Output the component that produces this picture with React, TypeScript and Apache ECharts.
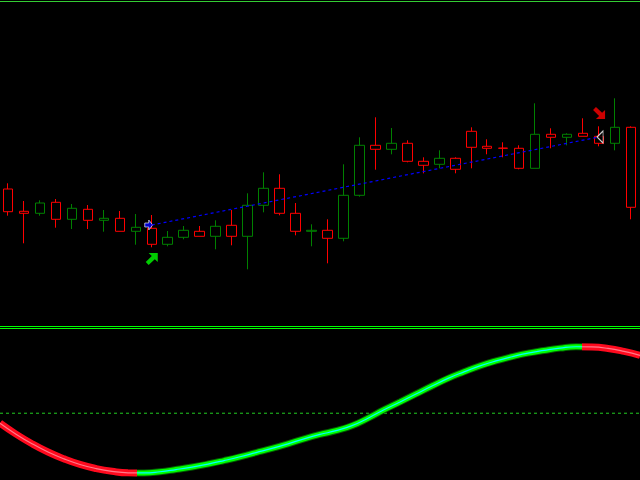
import React, { useEffect, useRef } from "react";
import * as echarts from "echarts";

// Candles: [open, close, low, high]
const candles: number[][] = [
  [137, 114.3, 110.3, 142.7],
  [114.7, 112.7, 82.7, 125],
  [112.7, 123, 110.3, 125.7],
  [123.7, 106.7, 98.3, 127],
  [106.7, 117.7, 97, 122],
  [116.7, 105.7, 97, 121],
  [105.7, 107.7, 94.3, 116],
  [107.7, 94.7, 94.7, 115],
  [94.7, 98.7, 81.3, 112],
  [97.7, 81.7, 78.7, 111],
  [81.7, 88.7, 79.7, 95],
  [88.7, 95.7, 86.7, 100],
  [94.7, 89.7, 89.7, 100],
  [89.7, 99.7, 76.7, 105.7],
  [100.7, 89.7, 80.7, 116],
  [89.7, 120.7, 56.7, 132.7],
  [120.7, 137.7, 113.7, 153.7],
  [137.7, 112.7, 110.7, 151.7],
  [112.7, 94.7, 90.7, 123],
  [94.7, 95.7, 79.7, 101.7],
  [95.7, 87.7, 62.7, 106.7],
  [87.7, 130.7, 84.7, 161.7],
  [130.7, 180.7, 129.3, 188.7],
  [180.7, 176.7, 156.3, 208.7],
  [176.7, 182.7, 171.7, 198],
  [182.7, 164.7, 163.7, 185.7],
  [164.7, 160.7, 152.7, 168.7],
  [161.7, 167.7, 157.7, 175.7],
  [167.7, 156.7, 152.7, 168.7],
  [194.7, 178.7, 157.7, 198.7],
  [179.7, 177.7, 171.7, 186.7],
  [177.9, 177.7, 168.7, 183.7],
  [177.7, 157.7, 156.7, 180.7],
  [157.7, 191.7, 157.7, 222.7],
  [191.7, 188.7, 177.7, 197.7],
  [188.7, 191.7, 180.7, 192.7],
  [192.7, 189.7, 189.7, 207.7],
  [189.7, 182.7, 179.7, 199.7],
  [182.7, 198.7, 175.7, 227.7],
  [198.7, 118.7, 106.7, 199.7],
];
const barLabels: string[] = candles.map((_, i) => `Bar ${i + 1}`);

// Oscillator (bottom panel), one value per half-bar step 0..40
const oscillator: number[] = [
  -0.1, -0.21, -0.306, -0.389, -0.458, -0.514, -0.555, -0.583, -0.598, -0.599,
  -0.587, -0.565, -0.54, -0.51, -0.475, -0.437, -0.395, -0.353, -0.307, -0.257,
  -0.213, -0.175, -0.125, -0.05, 0.035, 0.113, 0.193, 0.273, 0.35, 0.415,
  0.475, 0.525, 0.567, 0.603, 0.63, 0.653, 0.667, 0.665, 0.65, 0.62, 0.58,
];
const oscTurns: number[] = [8.5625, 36.375];
const oscZero: number[][] = [
  [0, 0],
  [40, 0],
];

// Trend line and signals
const trendLine: number[][] = [
  [9, 101],
  [37, 189],
];
const buyArrow: number[][] = [[9, 67]];
const sellArrow: number[][] = [[37, 213]];
const startMark: number[][] = [[9, 101]];
const endMark: number[][] = [[37, 189]];

const UP_RIGHT = "path://M3 0 L12.5 0 L12.5 9.5 L9.4 6.4 L3 12.5 L0 9.5 L6.3 3.1 Z";
const DOWN_RIGHT = "path://M3 12.5 L12.5 12.5 L12.5 3 L9.4 6.1 L3 0 L0 3 L6.3 9.4 Z";
const RIGHT_ARROW = "path://M0 3 L4 3 L4 0 L8 5 L4 10 L4 7 L0 7 Z";
const LEFT_TRI = "path://M0 6 L6 0 L6 12 Z";

function makePieces(a: string, b: string) {
  return [
    { lt: oscTurns[0], color: a },
    { gte: oscTurns[0], lt: oscTurns[1], color: b },
    { gte: oscTurns[1], color: a },
  ];
}

export default function App() {
  const ref = useRef<HTMLDivElement>(null);
  useEffect(() => {
    if (!ref.current) return;
    const chart = echarts.init(ref.current, undefined, { renderer: "svg" });
    const RED = "#ff0a1e";
    const oscData = oscillator.map((v, i) => [i, v]);
    const oscLine = (width: number) => ({
      type: "line",
      xAxisIndex: 1,
      yAxisIndex: 1,
      data: oscData,
      smooth: true,
      symbol: "none",
      lineStyle: { width },
    });
    chart.setOption({
      animation: false,
      backgroundColor: "#000000",
      grid: [
        { left: -1, right: 1, top: 0, height: 326 },
        { left: 0, right: 0, top: 330.5, height: 150 },
      ],
      xAxis: [
        { type: "category", data: barLabels, gridIndex: 0, show: false },
        { type: "value", gridIndex: 1, min: 0, max: 40, show: false, splitLine: { show: false } },
      ],
      yAxis: [
        { type: "value", gridIndex: 0, min: 0, max: 326, show: false, splitLine: { show: false } },
        { type: "value", gridIndex: 1, min: -0.67, max: 0.83, show: false, splitLine: { show: false } },
      ],
      visualMap: [
        { type: "piecewise", show: false, seriesIndex: 6, dimension: 0, pieces: makePieces(RED, "#006400") },
        { type: "piecewise", show: false, seriesIndex: 7, dimension: 0, pieces: makePieces(RED, "#00ff00") },
        { type: "piecewise", show: false, seriesIndex: 8, dimension: 0, pieces: makePieces("#ff7a8a", "#00ffff") },
      ],
      series: [
        {
          type: "candlestick",
          data: candles,
          barWidth: 10,
          itemStyle: {
            color: "#000000",
            color0: "#000000",
            borderColor: "#008000",
            borderColor0: "#ff0000",
            borderWidth: 1,
          },
        },
        {
          type: "line",
          data: trendLine,
          symbol: "none",
          lineStyle: { color: "#0000ff", width: 1.2, type: [3, 3] },
        },
        {
          type: "scatter",
          data: buyArrow,
          symbol: UP_RIGHT,
          symbolSize: [12, 12],
          itemStyle: { color: "#00ff00" },
        },
        {
          type: "scatter",
          data: sellArrow,
          symbol: DOWN_RIGHT,
          symbolSize: [12, 12],
          itemStyle: { color: "#ff0000" },
        },
        {
          type: "scatter",
          data: startMark,
          symbol: RIGHT_ARROW,
          symbolSize: [8, 10],
          symbolOffset: [-3, 0],
          itemStyle: { color: "#0000ff", borderColor: "#ffffff", borderWidth: 0.8 },
        },
        {
          type: "scatter",
          data: endMark,
          symbol: LEFT_TRI,
          symbolSize: [6, 12],
          symbolOffset: [1, 0],
          itemStyle: { color: "#000000", borderColor: "#ffffff", borderWidth: 1 },
        },
        oscLine(7),
        oscLine(5),
        oscLine(1.2),
        {
          type: "line",
          xAxisIndex: 1,
          yAxisIndex: 1,
          data: oscZero,
          symbol: "none",
          z: 1,
          lineStyle: { color: "#22cc22", width: 1, type: [3, 3] },
        },
      ],
      graphic: [
        { type: "line", shape: { x1: 0, y1: 1.5, x2: 640, y2: 1.5 }, style: { stroke: "#33cc33", lineWidth: 1 } },
        { type: "line", shape: { x1: 0, y1: 326.5, x2: 640, y2: 326.5 }, style: { stroke: "#00ff00", lineWidth: 1 } },
        { type: "line", shape: { x1: 0, y1: 328.5, x2: 640, y2: 328.5 }, style: { stroke: "#00ff00", lineWidth: 1 } },
      ],
    });
    return () => chart.dispose();
  }, []);
  return (
    <div
      ref={ref}
      style={{ position: "fixed", left: 0, top: 0, width: 640, height: 480, background: "#000" }}
    />
  );
}
